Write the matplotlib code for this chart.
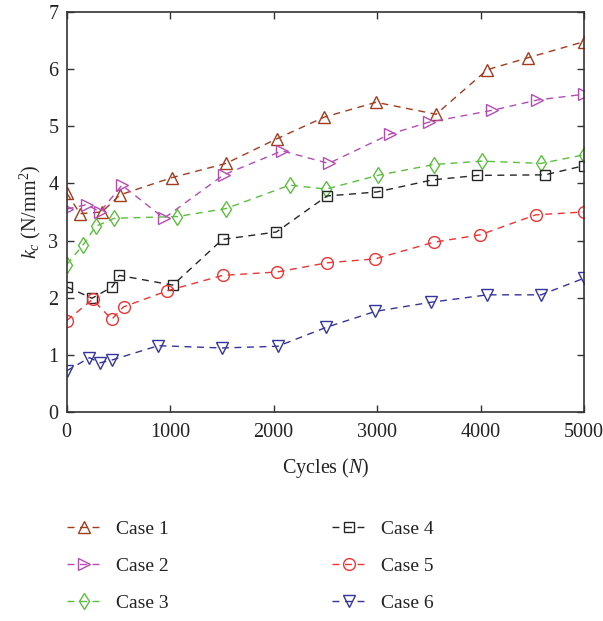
import matplotlib
matplotlib.use('Agg')
import matplotlib.pyplot as plt

plt.rcParams['font.family'] = 'Liberation Serif'
plt.rcParams['mathtext.fontset'] = 'custom'
plt.rcParams['mathtext.rm'] = 'Liberation Serif'
plt.rcParams['mathtext.it'] = 'Liberation Serif:italic'

# data
case1_x = [0, 130, 340, 516, 1015, 1540, 2030, 2490, 2990, 3570, 4065, 4460, 5000]
case1_y = [3.83, 3.47, 3.50, 3.80, 4.10, 4.35, 4.78, 5.16, 5.42, 5.21, 5.99, 6.20, 6.48]

case2_x = [0, 194, 323, 534, 940, 1518, 2082, 2532, 3121, 3497, 4115, 4550, 5000]
case2_y = [3.55, 3.63, 3.50, 3.97, 3.39, 4.15, 4.57, 4.35, 4.86, 5.07, 5.28, 5.46, 5.56]

case3_x = [0, 161, 281, 461, 1068, 1541, 2155, 2507, 3005, 3546, 4012, 4585, 5000]
case3_y = [2.58, 2.93, 3.25, 3.39, 3.42, 3.56, 3.97, 3.90, 4.14, 4.33, 4.39, 4.35, 4.50]

case4_x = [0, 245, 441, 508, 1026, 1506, 2027, 2516, 2999, 3530, 3970, 4623, 5000]
case4_y = [2.19, 1.99, 2.19, 2.39, 2.22, 3.02, 3.15, 3.78, 3.85, 4.06, 4.14, 4.15, 4.31]

case5_x = [0, 250, 435, 550, 972, 1506, 2034, 2516, 2983, 3546, 3996, 4534, 5000]
case5_y = [1.60, 1.97, 1.62, 1.84, 2.12, 2.39, 2.45, 2.61, 2.68, 2.97, 3.10, 3.45, 3.50]

case6_x = [0, 220, 322, 438, 885, 1503, 2040, 2507, 2983, 3520, 4067, 4585, 5000]
case6_y = [0.72, 0.95, 0.86, 0.91, 1.16, 1.12, 1.15, 1.48, 1.76, 1.92, 2.05, 2.05, 2.34]

labels = ['Case 1', 'Case 2', 'Case 3', 'Case 4', 'Case 5', 'Case 6']
colors = ['#A23C1C', '#B54CB5', '#5CBE3E', '#262626', '#F03333', '#34349C']
markers = ['^', '>', 'd', 's', 'o', 'v']

xs = [case1_x, case2_x, case3_x, case4_x, case5_x, case6_x]
ys = [case1_y, case2_y, case3_y, case4_y, case5_y, case6_y]

fig = plt.figure(figsize=(6.03, 6.21), dpi=100)
ax = fig.add_axes([0.1106, 0.3366, 0.8579, 0.6441])

for x, y, lab, c, m in zip(xs, ys, labels, colors, markers):
    ms = 9 if m in ('^', '>', 'v') else 8.5
    if m == 's':
        ms = 7.5
    ax.plot(x, y, linestyle=(0, (5, 4)), color=c, linewidth=1.0,
            marker=m, markersize=ms, markerfacecolor='none',
            markeredgecolor=c, markeredgewidth=1.0, label=lab)

ax.set_xlim(0, 5000)
ax.set_ylim(0, 7)
ax.set_xticks([0, 1000, 2000, 3000, 4000, 5000])
ax.set_yticks(range(0, 8))
ax.tick_params(direction='in', top=True, right=True, labelsize=14.5,
               length=5, width=1.0, colors='#333333', labelcolor='#222222')
ax.tick_params(axis='x', pad=8)
ax.tick_params(axis='y', pad=6)
for s in ax.spines.values():
    s.set_color('#333333')
    s.set_linewidth(1.2)

ax.set_xlabel('Cycles ($N$)', fontsize=14.5, color='#222222', labelpad=10)
ax.set_ylabel('$k_c$ (N/mm$^2$)', fontsize=14.5, color='#222222', labelpad=4)

leg = fig.legend(loc='upper left', bbox_to_anchor=(0.099, 0.175), ncol=2,
                 frameon=False, fontsize=14, handlelength=1.7,
                 handletextpad=0.8, columnspacing=8.4, labelspacing=1.0,
                 borderaxespad=0)
for t in leg.get_texts():
    t.set_color('#222222')

fig.savefig('out.png', dpi=100)
